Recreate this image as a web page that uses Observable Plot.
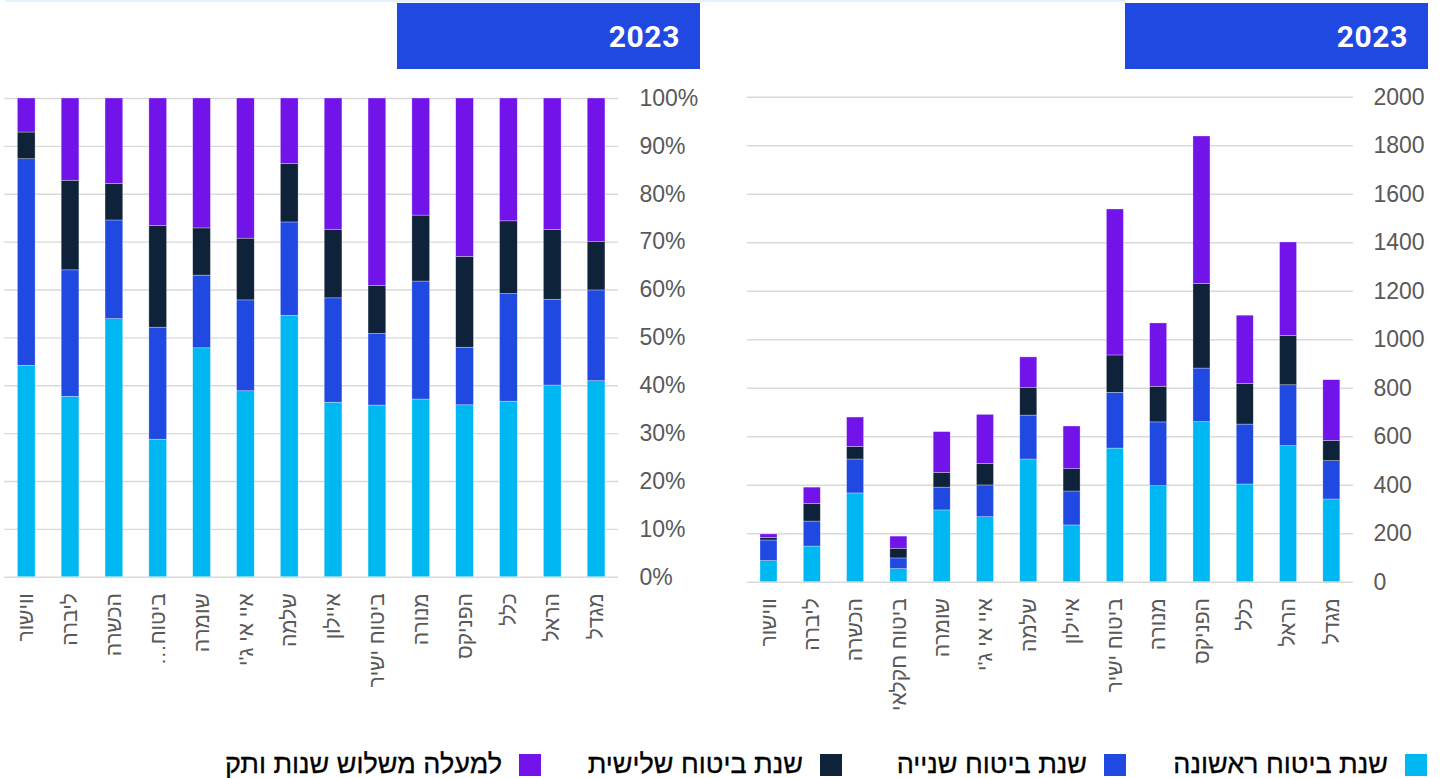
<!DOCTYPE html>
<html lang="he">
<head>
<meta charset="utf-8">
<script src="https://cdn.jsdelivr.net/npm/d3@7"></script>
<script src="https://cdn.jsdelivr.net/npm/@observablehq/plot@0.6"></script>
<style>
  html, body { margin: 0; padding: 0; background: #fff; }
  body { width: 1443px; height: 778px; position: relative; overflow: hidden; font-family: "Liberation Sans", Arial, sans-serif; }
  .strip { position: absolute; left: 5px; top: 0; width: 1120px; height: 2px; background: #e0f2fa; }
  .hdr { position: absolute; top: 3px; height: 66px; width: 303px; background: #1f49e0; color: #fff;
         font-family: Roboto, sans-serif; font-weight: 700; font-size: 30px; letter-spacing: 0.6px;
         display: flex; align-items: center; justify-content: flex-end; box-sizing: border-box; padding-right: 20px; }
  .chart { position: absolute; top: 80px; }
  .leg { position: absolute; top: 749px; display: flex; flex-direction: row-reverse; align-items: center; direction: ltr; }
  .leg .sw { width: 22px; height: 22px; }
  .leg .tx { font-family: "Liberation Sans", Arial, sans-serif; font-size: 27px; color: #000; margin-right: 17px; white-space: nowrap; direction: rtl; -webkit-text-stroke: 0.3px #000; }
</style>
</head>
<body>
<div class="strip"></div>
<div class="hdr" style="left:397px" id="hdrLeft"></div>
<div class="hdr" style="left:1125px" id="hdrRight"></div>
<div class="chart" id="left" style="left:0px"></div>
<div class="chart" id="right" style="left:720px"></div>
<div id="legend"></div>
<script>
// ---- data ----
const yearLabel = "2023";
const categories = ["מגדל","הראל","כלל","הפניקס","מנורה","ביטוח ישיר","איילון","שלמה","איי אי ג'י","שומרה","ביטוח חקלאי","הכשרה","ליברה","ווישור"];
const leftTickLabels = ["מגדל","הראל","כלל","הפניקס","מנורה","ביטוח ישיר","איילון","שלמה","איי אי ג'י","שומרה","ביטוח…\u200F","הכשרה","ליברה","ווישור"];
const seriesNames = ["שנת ביטוח ראשונה","שנת ביטוח שנייה","שנת ביטוח שלישית","למעלה משלוש שנות ותק"];
const seriesColors = ["#00b8f1","#1f49e0","#0e2239","#7213ea"];
const firstYear  = [341,561,403,660,396,551,234,506,268,296,54,366,147,87];
const secondYear = [158,251,247,221,263,230,140,181,131,94,44,140,103,85];
const thirdYear  = [84,204,167,349,147,154,92,113,89,61,40,52,73,11];
const overThree  = [250,385,282,608,261,602,176,127,202,168,50,121,67,14];
const rightTicks = [0,200,400,600,800,1000,1200,1400,1600,1800,2000];
const leftTicks  = [0,0.1,0.2,0.3,0.4,0.5,0.6,0.7,0.8,0.9,1];

// ---- table ----
const seriesValues = [firstYear, secondYear, thirdYear, overThree];
const rows = [];
seriesNames.forEach((s, si) => {
  categories.forEach((c, ci) => rows.push({category: c, series: s, value: seriesValues[si][ci]}));
});

document.getElementById("hdrLeft").textContent = yearLabel;
document.getElementById("hdrRight").textContent = yearLabel;

const color = {domain: seriesNames, range: seriesColors};
const font = "'Liberation Sans', Arial, sans-serif";

// ---- right chart: counts ----
const right = Plot.plot({
  width: 723, height: 650,
  marginLeft: 26.85, marginRight: 90, marginTop: 16.7, marginBottom: 148.3,
  style: {fontFamily: font, color: "#595959", background: "transparent", overflow: "visible"},
  x: {domain: categories, reverse: true, paddingInner: 0.607, paddingOuter: 0.3035, round: false, label: null},
  y: {domain: [0, 2000], label: null},
  color,
  marks: [
    Plot.gridY(rightTicks, {stroke: "#d9d9d9", strokeOpacity: 1, strokeWidth: 1.4}),
    Plot.barY(rows, Plot.stackY({x: "category", y: "value", fill: "series", stroke: "white", strokeWidth: 0.6, strokeOpacity: 0.5})),
    Plot.axisY({anchor: "right", ticks: rightTicks, tickSize: 0, tickPadding: 20, fontSize: 23, label: null,
                tickFormat: d => String(d)}),
    Plot.axisX({tickRotate: -90, tickSize: 0, tickPadding: 16, fontSize: 21, label: null})
  ]
});
document.getElementById("right").append(right);

// ---- left chart: shares ----
const left = Plot.plot({
  width: 700, height: 650,
  marginLeft: 4.3, marginRight: 82, marginTop: 18, marginBottom: 153.3,
  style: {fontFamily: font, color: "#595959", background: "transparent", overflow: "visible"},
  x: {domain: categories, reverse: true, paddingInner: 0.596, paddingOuter: 0.298, round: false, label: null},
  y: {domain: [0, 1], label: null},
  color,
  marks: [
    Plot.gridY(leftTicks, {stroke: "#d9d9d9", strokeOpacity: 1, strokeWidth: 1.4}),
    Plot.barY(rows, Plot.stackY({offset: "normalize", x: "category", y: "value", fill: "series", stroke: "white", strokeWidth: 0.6, strokeOpacity: 0.5})),
    Plot.axisY({anchor: "right", ticks: leftTicks, tickSize: 0, tickPadding: 21, fontSize: 23, label: null,
                tickFormat: d => Math.round(d * 100) + "%"}),
    Plot.axisX({tickRotate: -90, tickSize: 0, tickPadding: 16, fontSize: 21, label: null,
                tickFormat: c => leftTickLabels[categories.indexOf(c)]})
  ]
});
document.getElementById("left").append(left);

// ---- legend ----
const legendRight = [16, 317, 601, 902]; // distance of each swatch's right edge from page right
const legend = document.getElementById("legend");
seriesNames.forEach((s, i) => {
  const item = document.createElement("div");
  item.className = "leg";
  item.style.right = legendRight[i] + "px";
  const sw = document.createElement("div");
  sw.className = "sw";
  sw.style.background = seriesColors[i];
  const tx = document.createElement("div");
  tx.className = "tx";
  tx.textContent = s;
  item.append(sw, tx);
  legend.append(item);
});
</script>
</body>
</html>
